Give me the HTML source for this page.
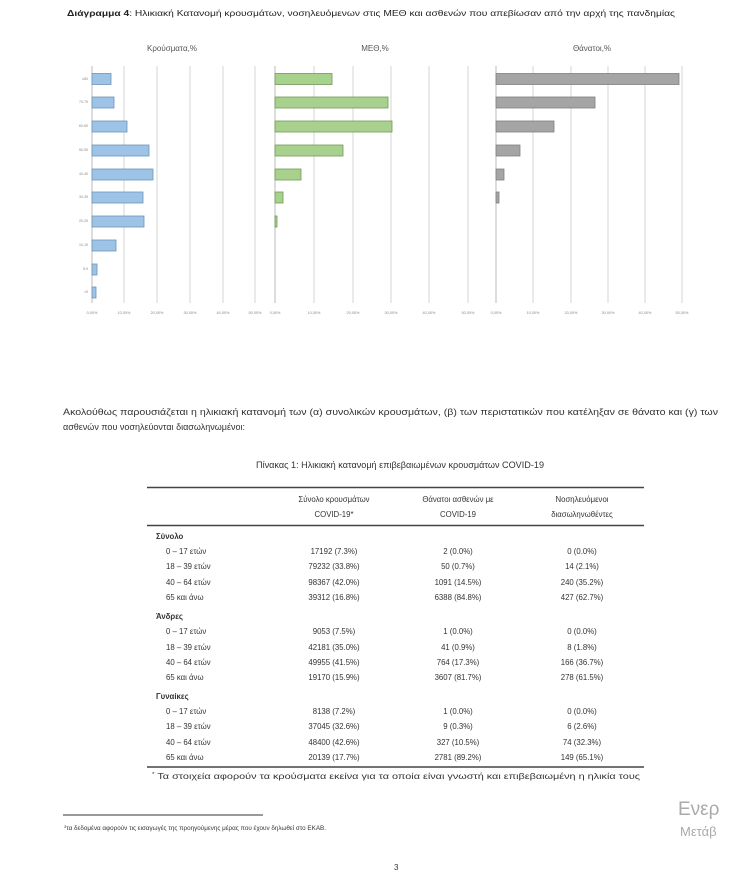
<!DOCTYPE html>
<html><head><meta charset="utf-8"><style>
html,body{margin:0;padding:0;background:#fff;}
svg{display:block;font-family:"Liberation Sans","DejaVu Sans",sans-serif;}
</style></head><body>
<svg width="734" height="884" viewBox="0 0 734 884" xmlns="http://www.w3.org/2000/svg">
<text x="67" y="16" font-size="8.6" fill="#222" textLength="608" lengthAdjust="spacingAndGlyphs"><tspan font-weight="bold">Διάγραμμα 4</tspan>: Ηλικιακή Κατανομή κρουσμάτων, νοσηλευόμενων στις ΜΕΘ και ασθενών που απεβίωσαν από την αρχή της πανδημίας</text>
<g font-size="8" fill="#555" text-anchor="middle">
<text x="172" y="51">Κρούσματα,%</text>
<text x="375" y="51">ΜΕΘ,%</text>
<text x="592" y="51">Θάνατοι,%</text>
</g>
<g stroke="#d4d4d4" stroke-width="1">
<line x1="124" y1="66" x2="124" y2="303"/><line x1="157" y1="66" x2="157" y2="303"/><line x1="190" y1="66" x2="190" y2="303"/><line x1="223" y1="66" x2="223" y2="303"/><line x1="255" y1="66" x2="255" y2="303"/>
<line x1="314" y1="66" x2="314" y2="303"/><line x1="353" y1="66" x2="353" y2="303"/><line x1="391" y1="66" x2="391" y2="303"/><line x1="429" y1="66" x2="429" y2="303"/><line x1="468" y1="66" x2="468" y2="303"/>
<line x1="533" y1="66" x2="533" y2="303"/><line x1="571" y1="66" x2="571" y2="303"/><line x1="608" y1="66" x2="608" y2="303"/><line x1="645" y1="66" x2="645" y2="303"/><line x1="682" y1="66" x2="682" y2="303"/>
</g>
<g stroke="#bbb"><line x1="92" y1="66" x2="92" y2="303"/><line x1="275" y1="66" x2="275" y2="303"/><line x1="496" y1="66" x2="496" y2="303"/></g>
<g font-size="3.5" fill="#888" text-anchor="end">
<text x="88" y="80">≥80</text><text x="88" y="103">70-79</text><text x="88" y="127">60-69</text><text x="88" y="151">50-59</text><text x="88" y="175">40-49</text><text x="88" y="198">30-39</text><text x="88" y="222">20-29</text><text x="88" y="246">10-19</text><text x="88" y="270">5-9</text><text x="88" y="293">&lt;5</text>
</g>
<g fill="#9dc3e6" stroke="#6f94b8" stroke-width="0.8">
<rect x="92" y="73.5" width="19" height="11"/><rect x="92" y="97" width="22" height="11"/><rect x="92" y="121" width="35" height="11"/><rect x="92" y="145" width="57" height="11"/><rect x="92" y="169" width="61" height="11"/><rect x="92" y="192" width="51" height="11"/><rect x="92" y="216" width="52" height="11"/><rect x="92" y="240" width="24" height="11"/><rect x="92" y="264" width="5" height="11"/><rect x="92" y="287" width="4" height="11"/>
</g>
<g fill="#a9d18e" stroke="#6f9a55" stroke-width="0.8">
<rect x="275" y="73.5" width="57" height="11"/><rect x="275" y="97" width="113" height="11"/><rect x="275" y="121" width="117" height="11"/><rect x="275" y="145" width="68" height="11"/><rect x="275" y="169" width="26" height="11"/><rect x="275" y="192" width="8" height="11"/><rect x="275" y="216" width="2" height="11"/>
</g>
<g fill="#a5a5a5" stroke="#808080" stroke-width="0.8">
<rect x="496" y="73.5" width="183" height="11"/><rect x="496" y="97" width="99" height="11"/><rect x="496" y="121" width="58" height="11"/><rect x="496" y="145" width="24" height="11"/><rect x="496" y="169" width="8" height="11"/><rect x="496" y="192" width="3" height="11"/>
</g>
<g font-size="3.8" fill="#888" text-anchor="middle">
<text x="92" y="314">0,00%</text><text x="124" y="314">10,00%</text><text x="157" y="314">20,00%</text><text x="190" y="314">30,00%</text><text x="223" y="314">40,00%</text><text x="255" y="314">50,00%</text>
<text x="275" y="314">0,00%</text><text x="314" y="314">10,00%</text><text x="353" y="314">20,00%</text><text x="391" y="314">30,00%</text><text x="429" y="314">40,00%</text><text x="468" y="314">50,00%</text>
<text x="496" y="314">0,00%</text><text x="533" y="314">10,00%</text><text x="571" y="314">20,00%</text><text x="608" y="314">30,00%</text><text x="645" y="314">40,00%</text><text x="682" y="314">50,00%</text>
</g>
<g font-size="8.8" fill="#333">
<text x="63" y="415" textLength="655" lengthAdjust="spacingAndGlyphs">Ακολούθως παρουσιάζεται η ηλικιακή κατανομή των (α) συνολικών κρουσμάτων, (β) των περιστατικών που κατέληξαν σε θάνατο και (γ) των</text>
<text x="63" y="430" textLength="182" lengthAdjust="spacingAndGlyphs">ασθενών που νοσηλεύονται διασωληνωμένοι:</text>
</g>
<text x="400" y="468" font-size="9" fill="#333" text-anchor="middle" textLength="288" lengthAdjust="spacingAndGlyphs">Πίνακας 1: Ηλικιακή κατανομή επιβεβαιωμένων κρουσμάτων COVID-19</text>
<g stroke="#444" stroke-width="1.5"><line x1="147" y1="487.5" x2="644" y2="487.5"/><line x1="147" y1="525.5" x2="644" y2="525.5"/><line x1="147" y1="767" x2="644" y2="767"/></g>
<g font-size="7.8" fill="#333" text-anchor="middle">
<text x="334" y="502">Σύνολο κρουσμάτων</text><text x="334" y="517">COVID-19*</text>
<text x="458" y="502">Θάνατοι ασθενών με</text><text x="458" y="517">COVID-19</text>
<text x="582" y="502">Νοσηλευόμενοι</text><text x="582" y="517">διασωληνωθέντες</text>
</g>
<g font-size="7.8" fill="#333">
<text x="156" y="539" font-weight="bold">Σύνολο</text>
<text x="166" y="554">0 – 17 ετών</text><text x="166" y="569">18 – 39 ετών</text><text x="166" y="585">40 – 64 ετών</text><text x="166" y="600">65 και άνω</text>
<text x="156" y="619" font-weight="bold">Άνδρες</text>
<text x="166" y="634">0 – 17 ετών</text><text x="166" y="650">18 – 39 ετών</text><text x="166" y="665">40 – 64 ετών</text><text x="166" y="680">65 και άνω</text>
<text x="156" y="699" font-weight="bold">Γυναίκες</text>
<text x="166" y="714">0 – 17 ετών</text><text x="166" y="729">18 – 39 ετών</text><text x="166" y="745">40 – 64 ετών</text><text x="166" y="760">65 και άνω</text>
</g>
<g font-size="7.8" fill="#333" text-anchor="middle">
<text x="334" y="554">17192 (7.3%)</text><text x="458" y="554">2 (0.0%)</text><text x="582" y="554">0 (0.0%)</text>
<text x="334" y="569">79232 (33.8%)</text><text x="458" y="569">50 (0.7%)</text><text x="582" y="569">14 (2.1%)</text>
<text x="334" y="585">98367 (42.0%)</text><text x="458" y="585">1091 (14.5%)</text><text x="582" y="585">240 (35.2%)</text>
<text x="334" y="600">39312 (16.8%)</text><text x="458" y="600">6388 (84.8%)</text><text x="582" y="600">427 (62.7%)</text>
<text x="334" y="634">9053 (7.5%)</text><text x="458" y="634">1 (0.0%)</text><text x="582" y="634">0 (0.0%)</text>
<text x="334" y="650">42181 (35.0%)</text><text x="458" y="650">41 (0.9%)</text><text x="582" y="650">8 (1.8%)</text>
<text x="334" y="665">49955 (41.5%)</text><text x="458" y="665">764 (17.3%)</text><text x="582" y="665">166 (36.7%)</text>
<text x="334" y="680">19170 (15.9%)</text><text x="458" y="680">3607 (81.7%)</text><text x="582" y="680">278 (61.5%)</text>
<text x="334" y="714">8138 (7.2%)</text><text x="458" y="714">1 (0.0%)</text><text x="582" y="714">0 (0.0%)</text>
<text x="334" y="729">37045 (32.6%)</text><text x="458" y="729">9 (0.3%)</text><text x="582" y="729">6 (2.6%)</text>
<text x="334" y="745">48400 (42.6%)</text><text x="458" y="745">327 (10.5%)</text><text x="582" y="745">74 (32.3%)</text>
<text x="334" y="760">20139 (17.7%)</text><text x="458" y="760">2781 (89.2%)</text><text x="582" y="760">149 (65.1%)</text>
</g>
<text x="152" y="779" font-size="8.4" fill="#333" textLength="488" lengthAdjust="spacingAndGlyphs"><tspan font-size="5" dy="-3">*</tspan><tspan dy="3"> Τα στοιχεία αφορούν τα κρούσματα εκείνα για τα οποία είναι γνωστή και επιβεβαιωμένη η ηλικία τους</tspan></text>
<line x1="63" y1="815" x2="263" y2="815" stroke="#333" stroke-width="1"/>
<text x="64" y="830" font-size="6.3" fill="#333" textLength="262" lengthAdjust="spacingAndGlyphs"><tspan font-size="4" dy="-2">3</tspan><tspan dy="2">τα δεδομένα αφορούν τις εισαγωγές της προηγούμενης μέρας που έχουν δηλωθεί στο ΕΚΑΒ.</tspan></text>
<text x="394" y="870" font-size="8" fill="#333">3</text>
<text x="678" y="815" font-size="19" fill="#aaa">Ενερ</text>
<text x="680" y="836" font-size="13" fill="#aaa">Μετάβ</text>
</svg>
</body></html>
